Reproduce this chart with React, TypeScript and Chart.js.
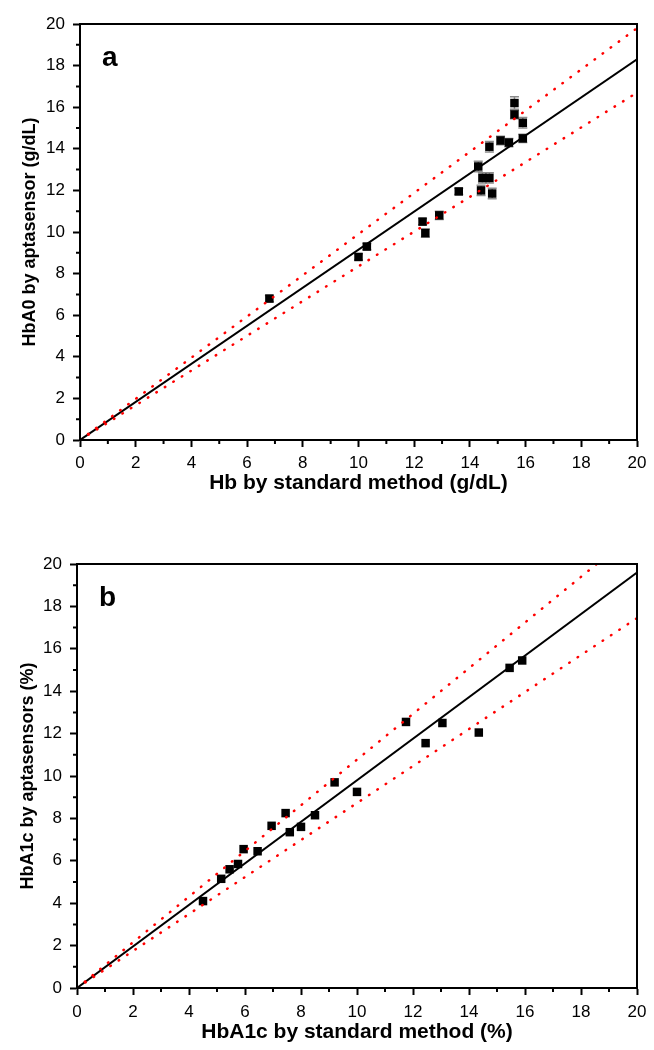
import React, { useEffect, useRef } from "react";
import { Chart, registerables } from "chart.js";

Chart.register(...registerables);

// ---------- Data ----------
const hbStd = [6.8, 10.0, 10.3, 12.3, 12.4, 12.9, 13.6, 14.3, 14.4, 14.45, 14.7, 14.8, 14.7, 15.1, 15.4, 15.6, 15.6, 15.9, 15.9];
const hbA0Apt = [6.8, 8.8, 9.3, 10.5, 9.95, 10.8, 11.95, 13.15, 12.0, 12.6, 12.6, 11.85, 14.1, 14.4, 14.3, 16.2, 15.65, 15.25, 14.5];
const hbA0Err = [0.15, 0.15, 0.15, 0.15, 0.2, 0.2, 0.15, 0.25, 0.25, 0.25, 0.25, 0.25, 0.25, 0.2, 0.2, 0.3, 0.2, 0.25, 0.2];

const a1cStd = [4.5, 5.15, 5.45, 5.75, 5.95, 6.45, 6.95, 7.45, 7.6, 8.0, 8.5, 9.2, 10.0, 11.75, 12.45, 13.05, 14.35, 15.45, 15.9];
const a1cApt = [4.1, 5.15, 5.6, 5.85, 6.55, 6.45, 7.65, 8.25, 7.35, 7.6, 8.15, 9.7, 9.25, 12.55, 11.55, 12.5, 12.05, 15.1, 15.45];

const lineX = [0, 20];
const fitA = [0, 18.3];
const upperA = [0, 19.8];
const lowerA = [0, 16.7];
const fitB = [0, 19.6];
const upperB = [0, 21.55];
const lowerB = [0, 17.45];

const tickValues = [0, 2, 4, 6, 8, 10, 12, 14, 16, 18, 20];

const FONT = 'Arial, "Liberation Sans", sans-serif';

type PanelCfg = {
  letter: string;
  xTitle: string;
  yTitle: string;
  xs: number[];
  ys: number[];
  errs?: number[];
  fit: number[];
  upper: number[];
  lower: number[];
  padTop: number;
  yWidth: number;
  xHeight: number;
  xTitlePad: number;
  xTickPad: number;
  yTitlePad: number;
};

function makePlugin(cfg: PanelCfg) {
  return {
    id: "decor" + cfg.letter,
    beforeDatasetsDraw(chart: any) {
      if (!cfg.errs) return;
      const { ctx } = chart;
      const xs = chart.scales.x;
      const ys = chart.scales.y;
      ctx.save();
      ctx.strokeStyle = "#8a8a8a";
      ctx.lineWidth = 1.5;
      cfg.xs.forEach((xv, i) => {
        const px = xs.getPixelForValue(xv);
        const top = ys.getPixelForValue(cfg.ys[i] + cfg.errs![i]);
        const bot = ys.getPixelForValue(cfg.ys[i] - cfg.errs![i]);
        ctx.beginPath();
        ctx.moveTo(px, top);
        ctx.lineTo(px, bot);
        ctx.moveTo(px - 4.5, top);
        ctx.lineTo(px + 4.5, top);
        ctx.moveTo(px - 4.5, bot);
        ctx.lineTo(px + 4.5, bot);
        ctx.stroke();
      });
      ctx.restore();
    },
    afterDraw(chart: any) {
      const { ctx, chartArea } = chart;
      const xs = chart.scales.x;
      const ys = chart.scales.y;
      ctx.save();
      // frame
      ctx.strokeStyle = "#000";
      ctx.lineWidth = 2;
      ctx.strokeRect(chartArea.left, chartArea.top, chartArea.right - chartArea.left, chartArea.bottom - chartArea.top);
      // minor ticks
      ctx.beginPath();
      for (let v = 1; v < 20; v += 2) {
        const px = xs.getPixelForValue(v);
        ctx.moveTo(px, chartArea.bottom);
        ctx.lineTo(px, chartArea.bottom + 4);
        const py = ys.getPixelForValue(v);
        ctx.moveTo(chartArea.left, py);
        ctx.lineTo(chartArea.left - 4, py);
      }
      ctx.stroke();
      // panel letter
      ctx.fillStyle = "#000";
      ctx.font = `bold 28px ${FONT}`;
      ctx.textAlign = "left";
      ctx.textBaseline = "alphabetic";
      ctx.fillText(cfg.letter, chartArea.left + 22, chartArea.top + 42);
      ctx.restore();
    },
  };
}

function Panel({ cfg, top }: { cfg: PanelCfg; top: number }) {
  const ref = useRef<HTMLCanvasElement>(null);
  useEffect(() => {
    if (!ref.current) return;
    const lineDs = (ys: number[], color: string, dotted: boolean) => ({
      type: "line" as const,
      data: lineX.map((x, i) => ({ x, y: ys[i] })),
      borderColor: color,
      borderWidth: dotted ? 2.5 : 2,
      borderDash: dotted ? [0.5, 9.5] : [],
      borderCapStyle: dotted ? "round" : "butt",
      pointRadius: 0,
      showLine: true,
      fill: false,
    });
    const major = (ctx: any) => {
      const v = ctx.tick ? ctx.tick.value : 0;
      return v % 2 === 0 ? "#000" : "rgba(0,0,0,0)";
    };
    const chart = new Chart(ref.current, {
      type: "scatter",
      data: {
        datasets: [
          lineDs(cfg.upper, "#ff0000", true) as any,
          lineDs(cfg.lower, "#ff0000", true) as any,
          lineDs(cfg.fit, "#000000", false) as any,
          {
            type: "scatter",
            data: cfg.xs.map((x, i) => ({ x, y: cfg.ys[i] })),
            pointStyle: "rect",
            pointRadius: 6,
            backgroundColor: "#000",
            borderColor: "#000",
            borderWidth: 0,
          },
        ],
      },
      options: {
        responsive: false,
        animation: false,
        events: [],
        layout: { padding: { top: cfg.padTop, right: 17, left: 0, bottom: 0 } },
        plugins: { legend: { display: false }, tooltip: { enabled: false } },
        scales: {
          x: {
            type: "linear",
            min: 0,
            max: 20,
            afterBuildTicks: (s: any) => {
              s.ticks = Array.from({ length: 21 }, (_, i) => ({ value: i }));
            },
            afterFit: (s: any) => {
              s.height = cfg.xHeight;
            },
            border: { display: true, color: "#000", width: 2 },
            grid: { drawOnChartArea: false, drawTicks: true, tickLength: 7, tickWidth: 2, tickColor: major },
            ticks: {
              autoSkip: false,
              maxRotation: 0,
              padding: cfg.xTickPad,
              color: "#000",
              font: { family: FONT, size: 17 },
              callback: (v: any) => (tickValues.includes(Number(v)) ? String(v) : ""),
            },
            title: {
              display: true,
              text: cfg.xTitle,
              color: "#000",
              font: { family: FONT, size: 21, weight: "bold" },
              padding: { top: 0, bottom: cfg.xTitlePad },
            },
          },
          y: {
            type: "linear",
            min: 0,
            max: 20,
            afterBuildTicks: (s: any) => {
              s.ticks = Array.from({ length: 21 }, (_, i) => ({ value: i }));
            },
            afterFit: (s: any) => {
              s.width = cfg.yWidth;
            },
            border: { display: true, color: "#000", width: 2 },
            grid: { drawOnChartArea: false, drawTicks: true, tickLength: 7, tickWidth: 2, tickColor: major },
            ticks: {
              autoSkip: false,
              padding: 8,
              color: "#000",
              font: { family: FONT, size: 17 },
              callback: (v: any) => (tickValues.includes(Number(v)) ? String(v) : ""),
            },
            title: {
              display: true,
              text: cfg.yTitle,
              color: "#000",
              font: { family: FONT, size: 18, weight: "bold" },
              padding: { top: cfg.yTitlePad, bottom: 0 },
            },
          },
        },
      } as any,
      plugins: [makePlugin(cfg)],
    });
    return () => chart.destroy();
  }, [cfg]);
  return (
    <canvas
      ref={ref}
      width={654}
      height={525}
      style={{ position: "absolute", left: 0, top, width: 654, height: 525, display: "block" }}
    />
  );
}

const panelA: PanelCfg = {
  letter: "a",
  xTitle: "Hb by standard method (g/dL)",
  yTitle: "HbA0 by aptasensor (g/dL)",
  xs: hbStd,
  ys: hbA0Apt,
  errs: hbA0Err,
  fit: fitA,
  upper: upperA,
  lower: lowerA,
  padTop: 24,
  yWidth: 80,
  xHeight: 85,
  xTitlePad: 29,
  xTickPad: 6,
  yTitlePad: 19,
};

const panelB: PanelCfg = {
  letter: "b",
  xTitle: "HbA1c by standard method (%)",
  yTitle: "HbA1c by aptasensors (%)",
  xs: a1cStd,
  ys: a1cApt,
  fit: fitB,
  upper: upperB,
  lower: lowerB,
  padTop: 39,
  yWidth: 77,
  xHeight: 62,
  xTitlePad: 5,
  xTickPad: 7,
  yTitlePad: 17,
};

export default function App() {
  return (
    <div style={{ position: "absolute", left: 0, top: 0, width: 654, height: 1050, background: "#fff" }}>
      <Panel cfg={panelA} top={0} />
      <Panel cfg={panelB} top={525} />
    </div>
  );
}
